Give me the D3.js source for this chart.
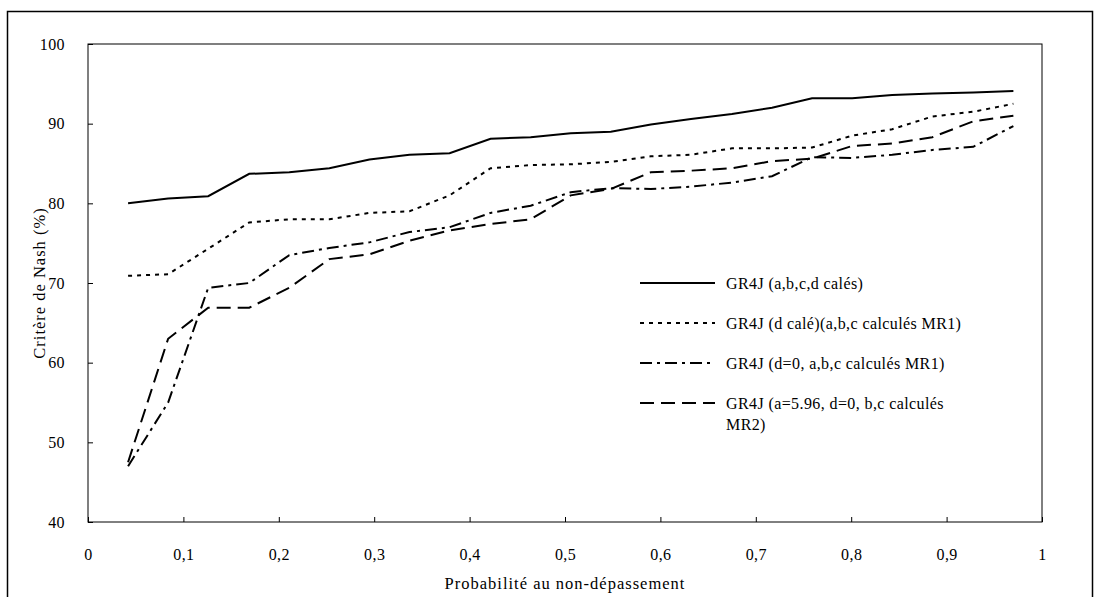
<!DOCTYPE html>
<html>
<head>
<meta charset="utf-8">
<script src="https://cdn.jsdelivr.net/npm/d3@7"></script>
<style>
  body { margin: 0; background: #fff; }
  text { font-family: "Liberation Serif", "DejaVu Serif", serif; fill: #000; }
</style>
</head>
<body>
<div id="chart"></div>
<script>
// probability of non-exceedance (x) for each point
const probs = [0.042, 0.084, 0.126, 0.169, 0.211, 0.253, 0.295, 0.337, 0.379, 0.422, 0.464, 0.506,
    0.548, 0.590, 0.632, 0.675, 0.717, 0.759, 0.801, 0.843, 0.885, 0.928, 0.970];
const calesAll = [80.0, 80.6, 80.9, 83.7, 83.9, 84.4, 85.5, 86.1, 86.3, 88.1, 88.3, 88.8,
    89.0, 89.9, 90.6, 91.2, 92.0, 93.2, 93.2, 93.6, 93.8, 93.9, 94.1];
const dCaleMR1 = [70.9, 71.1, 74.3, 77.6, 78.0, 78.0, 78.8, 79.0, 81.0, 84.4, 84.8, 84.9,
    85.2, 85.9, 86.1, 86.9, 86.9, 87.0, 88.5, 89.3, 90.9, 91.5, 92.5];
const d0MR1 = [47.0, 55.0, 69.4, 70.0, 73.5, 74.4, 75.1, 76.4, 77.0, 78.8, 79.7, 81.4,
    81.9, 81.8, 82.1, 82.6, 83.4, 85.8, 85.7, 86.1, 86.7, 87.1, 89.7];
const a596MR2 = [47.5, 63.0, 66.9, 66.9, 69.4, 73.0, 73.6, 75.3, 76.6, 77.4, 78.0, 81.0,
    81.8, 83.9, 84.1, 84.4, 85.3, 85.6, 87.2, 87.5, 88.3, 90.3, 91.0];
const seriesNames = [
    ["GR4J (a,b,c,d calés)"],
    ["GR4J (d calé)(a,b,c calculés MR1)"],
    ["GR4J (d=0, a,b,c calculés MR1)"],
    ["GR4J (a=5.96, d=0, b,c calculés", "MR2)"]
];
const xTicks = [0, 0.1, 0.2, 0.3, 0.4, 0.5, 0.6, 0.7, 0.8, 0.9, 1];
const yTicks = [40, 50, 60, 70, 80, 90, 100];

const dashes = [null, "4,5", "12,5,3,5", "14,7"];
const series = [calesAll, dCaleMR1, d0MR1, a596MR2].map((vals, i) => ({
    name: seriesNames[i],
    dash: dashes[i],
    values: probs.map((p, j) => ({ x: p, y: vals[j] }))
}));

const width = 1100, height = 597;
const margin = { left: 88, right: 58, top: 44, bottom: 75 };

const svg = d3.select("#chart")
    .append("svg")
    .attr("width", width)
    .attr("height", height);

// outer frame
svg.append("rect")
    .attr("x", 7.5)
    .attr("y", 11.5)
    .attr("width", 1085)
    .attr("height", 600)
    .attr("fill", "none")
    .attr("stroke", "#000")
    .attr("stroke-width", 1.5);

const x = d3.scaleLinear()
    .domain([0, 1])
    .range([margin.left, width - margin.right]);
const y = d3.scaleLinear()
    .domain([40, 100])
    .range([height - margin.bottom, margin.top]);

// plot box
svg.append("rect")
    .attr("x", margin.left)
    .attr("y", margin.top)
    .attr("width", width - margin.left - margin.right)
    .attr("height", height - margin.top - margin.bottom)
    .attr("fill", "none")
    .attr("stroke", "#000")
    .attr("stroke-width", 1);

svg.append("g")
    .attr("transform", `translate(0,${height - margin.bottom})`)
    .call(d3.axisBottom(x).tickValues(xTicks).tickSize(-5).tickPadding(27)
        .tickFormat(d => String(d).replace(".", ",")))
    .call(g => {
        g.select(".domain").remove();
        g.selectAll("text").attr("font-size", 16).attr("font-family", "Liberation Serif")
            .attr("letter-spacing", 0.4);
    });

svg.append("g")
    .attr("transform", `translate(${margin.left},0)`)
    .call(d3.axisLeft(y).tickValues(yTicks).tickSize(-5).tickPadding(23))
    .call(g => {
        g.select(".domain").remove();
        g.selectAll("text").attr("font-size", 16).attr("font-family", "Liberation Serif")
            .attr("letter-spacing", 0.4);
    });

svg.append("text")
    .text("Probabilité au non-dépassement")
    .attr("x", (margin.left + width - margin.right) / 2)
    .attr("y", 589)
    .attr("text-anchor", "middle")
    .attr("font-size", 16.5)
    .attr("letter-spacing", 1.0);

svg.append("text")
    .text("Critère de Nash (%)")
    .attr("transform", `translate(45,${(margin.top + height - margin.bottom) / 2}) rotate(-90)`)
    .attr("text-anchor", "middle")
    .attr("font-size", 16.5)
    .attr("letter-spacing", 1.0);

const line = d3.line()
    .x(d => x(d.x))
    .y(d => y(d.y));

svg.append("g")
    .selectAll("path")
    .data(series)
    .join("path")
    .attr("d", d => line(d.values))
    .attr("fill", "none")
    .attr("stroke", "#000")
    .attr("stroke-width", 2)
    .attr("stroke-dasharray", d => d.dash);

// legend
const legend = svg.append("g")
    .attr("transform", "translate(640,283)")
    .selectAll("g")
    .data(series)
    .join("g")
    .attr("transform", (d, i) => `translate(0,${i * 40})`);
legend.append("line")
    .attr("x1", 0)
    .attr("x2", 75)
    .attr("stroke", "#000")
    .attr("stroke-width", 2)
    .attr("stroke-dasharray", d => d.dash);
legend.append("text")
    .attr("x", 86)
    .attr("font-size", 16)
    .attr("letter-spacing", 0.4)
    .selectAll("tspan")
    .data(d => d.name)
    .join("tspan")
    .attr("x", 86)
    .attr("dy", (d, i) => i === 0 ? "0.35em" : "21px")
    .text(d => d);
</script>
</body>
</html>
